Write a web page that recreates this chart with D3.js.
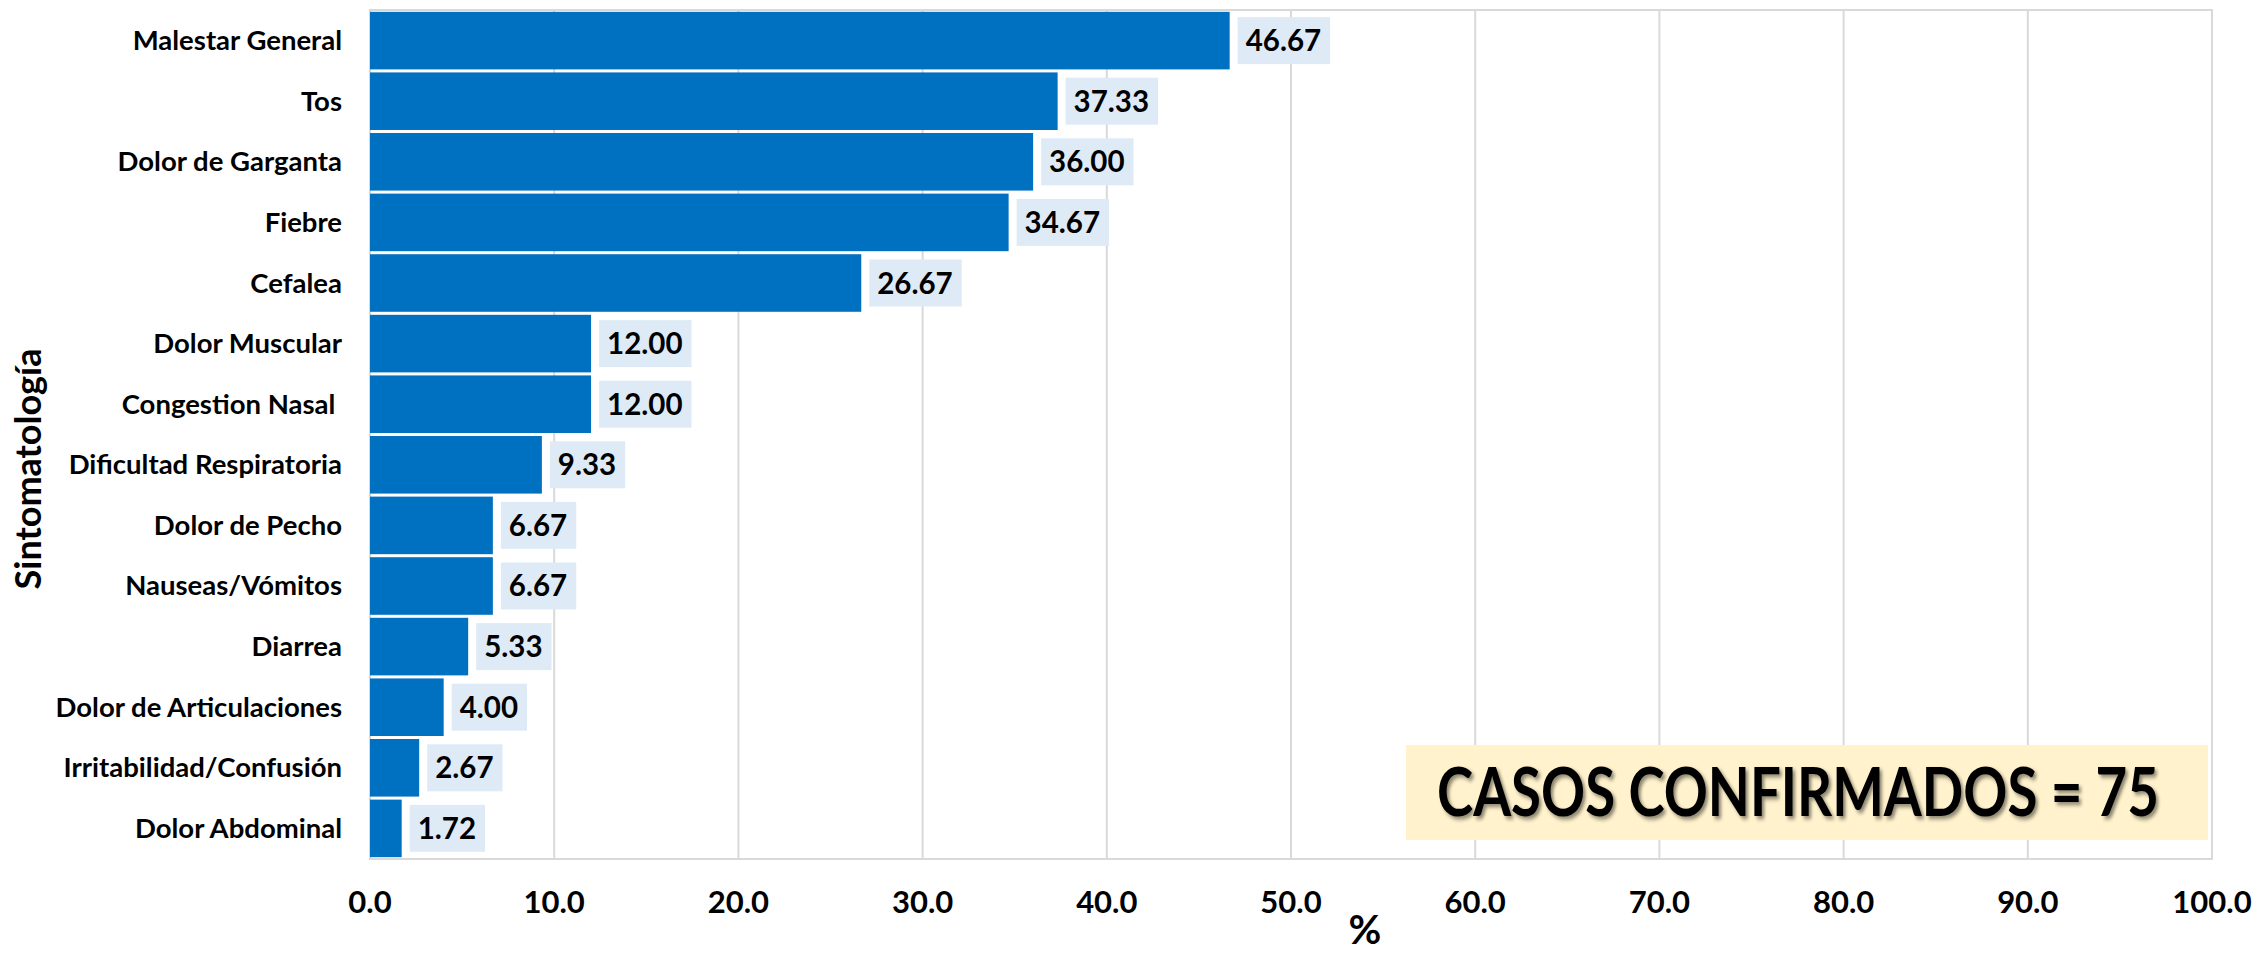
<!DOCTYPE html>
<html>
<head>
<meta charset="utf-8">
<script src="https://cdn.jsdelivr.net/npm/d3@7"></script>
<style>
  html, body { margin: 0; padding: 0; background: #ffffff; }
  svg { display: block; }
  text { font-family: Lato, "Open Sans", sans-serif; font-weight: bold; white-space: pre; }
</style>
</head>
<body>
<svg id="chart" width="2256" height="955"></svg>
<script>
const categories = [
  "Malestar General", "Tos", "Dolor de Garganta", "Fiebre", "Cefalea",
  "Dolor Muscular", "Congestion Nasal ", "Dificultad Respiratoria",
  "Dolor de Pecho", "Nauseas/Vómitos", "Diarrea", "Dolor de Articulaciones",
  "Irritabilidad/Confusión", "Dolor Abdominal"
];
const values = [46.67, 37.33, 36.00, 34.67, 26.67, 12.00, 12.00, 9.33, 6.67, 6.67, 5.33, 4.00, 2.67, 1.72];
const xTicks = [0, 10, 20, 30, 40, 50, 60, 70, 80, 90, 100];
const xTitle = "%";
const yTitle = "Sintomatología";
const note = "CASOS CONFIRMADOS = 75";

const svg = d3.select("#chart");
const plot = { left: 370, right: 2212, top: 10, bottom: 859 };

const x = d3.scaleLinear().domain([0, 100]).range([plot.left, plot.right]);
const y = d3.scaleBand().domain(categories).range([plot.top, plot.bottom])
  .paddingInner(0.05).paddingOuter(0.03);

// gridlines
svg.append("g").selectAll("line").data(xTicks).join("line")
  .attr("x1", d => x(d)).attr("x2", d => x(d))
  .attr("y1", plot.top).attr("y2", plot.bottom)
  .attr("stroke", "#D9D9D9").attr("stroke-width", 2);

// plot border
svg.append("rect")
  .attr("x", plot.left).attr("y", plot.top)
  .attr("width", plot.right - plot.left).attr("height", plot.bottom - plot.top)
  .attr("fill", "none").attr("stroke", "#D9D9D9").attr("stroke-width", 2);

// bars
svg.append("g").selectAll("rect").data(values).join("rect")
  .attr("x", x(0))
  .attr("y", (d, i) => y(categories[i]))
  .attr("width", d => x(d) - x(0))
  .attr("height", y.bandwidth())
  .attr("fill", "#0070C0");

// data labels
const lbl = svg.append("g").selectAll("g").data(values).join("g")
  .attr("transform", (d, i) => `translate(${x(d) + 8},${y(categories[i]) + y.bandwidth() / 2})`);
lbl.append("rect").attr("class", "bg")
  .attr("y", -23.5).attr("height", 47).attr("fill", "#DEEBF7");
lbl.append("text")
  .attr("x", 8).attr("y", 10.5)
  .attr("font-size", 29.5).attr("fill", "#000")
  .text(d => d.toFixed(2));
lbl.each(function() {
  const g = d3.select(this);
  const w = g.select("text").node().getComputedTextLength();
  g.select("rect.bg").attr("width", w + 17);
});

// y category labels
svg.append("g").selectAll("text").data(categories).join("text")
  .attr("x", 342)
  .attr("y", d => y(d) + y.bandwidth() / 2 + 9.5)
  .attr("text-anchor", "end")
  .attr("font-size", 27.5).attr("fill", "#000")
  .text(d => d);

// x tick labels
svg.append("g").selectAll("text").data(xTicks).join("text")
  .attr("x", d => x(d)).attr("y", 913)
  .attr("text-anchor", "middle")
  .attr("font-size", 31).attr("fill", "#000")
  .text(d => d.toFixed(1));

// axis titles
svg.append("text").attr("x", 1365).attr("y", 944)
  .attr("text-anchor", "middle").attr("font-size", 40).attr("fill", "#000")
  .text(xTitle);
svg.append("text")
  .attr("transform", "translate(41,469) rotate(-90)")
  .attr("text-anchor", "middle").attr("font-size", 36).attr("fill", "#000")
  .text(yTitle);

// annotation box
const defs = svg.append("defs");
const f = defs.append("filter").attr("id", "shadow").attr("x", "-10%").attr("y", "-20%").attr("width", "120%").attr("height", "140%");
f.append("feDropShadow").attr("dx", 3).attr("dy", 3).attr("stdDeviation", 2).attr("flood-color", "#000").attr("flood-opacity", 0.45);

svg.append("rect").attr("x", 1406).attr("y", 745).attr("width", 802).attr("height", 95)
  .attr("fill", "#FFF2CC");
const noteG = svg.append("g").attr("transform", "translate(1798,816)");
const noteT = noteG.append("text")
  .attr("text-anchor", "middle").attr("font-size", 66).attr("font-weight", 900).attr("fill", "#000")
  .attr("filter", "url(#shadow)")
  .text(note);
const nw = noteT.node().getComputedTextLength();
noteT.attr("transform", `scale(${Math.min(1, 722 / nw)},1)`);
</script>
</body>
</html>
